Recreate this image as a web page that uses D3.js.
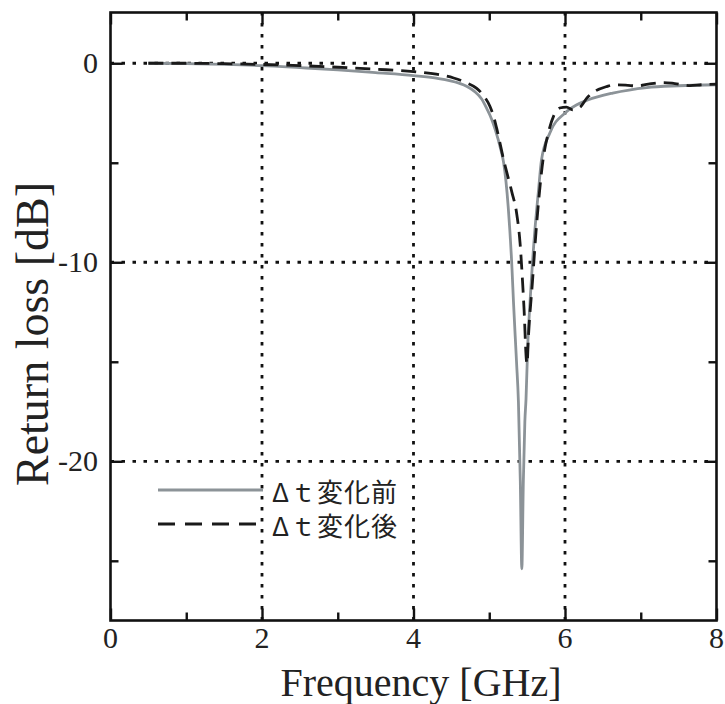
<!DOCTYPE html>
<html>
<head>
<meta charset="utf-8">
<script src="https://cdn.jsdelivr.net/npm/d3@7"></script>
<style>
  body { margin: 0; background: #fff; }
  svg { display: block; }
</style>
</head>
<body>
<svg id="chart" width="725" height="704"></svg>
<script>
// data (GHz / dB)
const freqBefore = [0.5, 1.0, 1.5, 2.0, 2.5, 3.0, 3.5, 4.0, 4.3, 4.6, 4.7, 4.8, 4.9, 4.97, 5.03, 5.08, 5.15, 5.19, 5.25,
  5.3, 5.32, 5.36, 5.385, 5.41, 5.43, 5.45, 5.47, 5.485, 5.51, 5.54, 5.6, 5.65, 5.69, 5.8, 6.0, 6.15, 6.3,
  6.63, 7.08, 7.5, 8.0]
const lossBefore = [0.0, -0.02, -0.06, -0.12, -0.22, -0.33, -0.47, -0.62, -0.75, -1.0, -1.15, -1.4, -1.8, -2.3, -2.8, -3.35, -4.3, -5.0, -7.2,
  -10.3, -12.0, -15.0, -17.0, -21.0, -25.4, -21.0, -18.0, -16.9, -14.0, -11.9, -8.5, -6.4, -4.85, -3.5, -2.5, -2.1, -1.85,
  -1.5, -1.22, -1.13, -1.08]

const freqAfter = [0.5, 1.0, 1.5, 2.0, 2.5, 3.0, 3.5, 4.0, 4.3, 4.53, 4.7, 4.83, 4.93, 5.01, 5.06, 5.1, 5.19, 5.3,
  5.36, 5.406, 5.44, 5.46, 5.49, 5.5, 5.515, 5.57, 5.617, 5.65, 5.71, 5.78, 5.93, 6.02, 6.1, 6.2, 6.29, 6.4,
  6.55, 6.64, 6.8, 6.95, 7.1, 7.3, 7.45, 7.65, 7.8, 8.0]
const lossAfter = [0.0, 0.0, -0.02, -0.06, -0.12, -0.2, -0.3, -0.42, -0.55, -0.74, -0.98, -1.25, -1.65, -2.17, -2.7, -3.3, -4.85, -6.5,
  -7.5, -9.0, -11.0, -12.4, -14.9, -15.1, -13.9, -11.0, -8.5, -7.0, -4.85, -3.5, -2.25, -2.2, -2.34, -2.2, -1.74, -1.4,
  -1.17, -1.09, -1.1, -1.14, -1.05, -0.97, -1.02, -1.12, -1.08, -1.05]

const majorX = [0, 2, 4, 6, 8]
const minorX = [1, 3, 5, 7]
const majorY = [0, -10, -20]
const minorY = [-5, -15, -25]
const legendLabels = ['Δｔ変化前', 'Δｔ変化後']

const pl = 110.5, pr = 716.5, pt = 12.5, pb = 620.5
const svg = d3.select('#chart')

const x = d3.scaleLinear().domain([0, 8]).range([pl, pr])
const y = d3.scaleLinear().domain([-28, 2.55]).range([pb, pt])

svg.append('clipPath').attr('id', 'plot')
  .append('rect')
  .attr('x', pl).attr('y', pt)
  .attr('width', pr - pl).attr('height', pb - pt)

// dotted grid
const grid = svg.append('g')
  .attr('stroke', '#111')
  .attr('stroke-width', 2.8)
  .attr('stroke-dasharray', '3.5,7.5')
grid.selectAll('.gx')
  .data(majorX.slice(1, -1))
  .join('line')
  .attr('x1', d => x(d)).attr('x2', d => x(d))
  .attr('y1', pb).attr('y2', pt)
grid.selectAll('.gy')
  .data(majorY)
  .join('line')
  .attr('y1', d => y(d)).attr('y2', d => y(d))
  .attr('x1', pl).attr('x2', pr)

// curves
const dash = '15,8'
const line = d3.line().curve(d3.curveMonotoneX)
const curves = svg.append('g').attr('clip-path', 'url(#plot)').attr('fill', 'none')
curves.append('path')
  .attr('d', line(freqBefore.map((f, i) => [x(f), y(lossBefore[i])])))
  .attr('stroke', '#8c9398')
  .attr('stroke-width', 2.8)
curves.append('path')
  .attr('d', line(freqAfter.map((f, i) => [x(f), y(lossAfter[i])])))
  .attr('stroke', '#1a1a1a')
  .attr('stroke-width', 2.8)
  .attr('stroke-dasharray', dash)

// ticks on all four sides, pointing inward
function ticks(axis, vals, size, offset) {
  const g = svg.append('g')
    .attr('transform', offset)
    .call(axis.tickValues(vals).tickSize(size).tickFormat(''))
  g.select('.domain').remove()
  g.selectAll('line').attr('stroke', '#111').attr('stroke-width', 2.4)
}
ticks(d3.axisBottom(x), majorX, -12, `translate(0,${pb})`)
ticks(d3.axisBottom(x), minorX, -8, `translate(0,${pb})`)
ticks(d3.axisTop(x), majorX, -12, `translate(0,${pt})`)
ticks(d3.axisTop(x), minorX, -8, `translate(0,${pt})`)
ticks(d3.axisLeft(y), majorY, -12, `translate(${pl},0)`)
ticks(d3.axisLeft(y), minorY, -8, `translate(${pl},0)`)
ticks(d3.axisRight(y), majorY, -12, `translate(${pr},0)`)
ticks(d3.axisRight(y), minorY, -8, `translate(${pr},0)`)

// frame
svg.append('rect')
  .attr('x', pl).attr('y', pt)
  .attr('width', pr - pl).attr('height', pb - pt)
  .attr('fill', 'none').attr('stroke', '#111').attr('stroke-width', 2.6)

// tick labels
const font = '"Liberation Serif", "Times New Roman", serif'
svg.append('g').selectAll('text')
  .data(majorX)
  .join('text')
  .attr('x', d => x(d)).attr('y', 648)
  .attr('text-anchor', 'middle')
  .attr('font-family', font).attr('font-size', 30).attr('fill', '#222')
  .text(d => d)
svg.append('g').selectAll('text')
  .data(majorY)
  .join('text')
  .attr('x', 98).attr('y', d => y(d))
  .attr('dy', '0.34em')
  .attr('text-anchor', 'end')
  .attr('font-family', font).attr('font-size', 30).attr('fill', '#222')
  .text(d => d)

// axis titles
svg.append('text')
  .attr('x', 421).attr('y', 696)
  .attr('text-anchor', 'middle')
  .attr('font-family', font).attr('font-size', 40).attr('fill', '#222')
  .text('Frequency [GHz]')
svg.append('text')
  .attr('transform', 'translate(48,334) rotate(-90)')
  .attr('text-anchor', 'middle')
  .attr('font-family', font).attr('font-size', 46).attr('fill', '#222')
  .text('Return loss [dB]')

// legend
const legend = svg.append('g')
const rows = [
  { y: 490, stroke: '#8c9398', dash: null },
  { y: 524, stroke: '#1a1a1a', dash: '17,10' }
]
legend.selectAll('line')
  .data(rows)
  .join('line')
  .attr('x1', 158).attr('x2', 263)
  .attr('y1', d => d.y).attr('y2', d => d.y)
  .attr('stroke', d => d.stroke)
  .attr('stroke-width', 2.8)
  .attr('stroke-dasharray', d => d.dash)
legend.selectAll('text')
  .data(rows)
  .join('text')
  .attr('x', 272).attr('y', d => d.y + 12)
  .attr('font-family', '"Noto Sans CJK JP", sans-serif')
  .attr('font-size', 26).attr('letter-spacing', 1).attr('fill', '#222')
  .text((d, i) => legendLabels[i])
</script>
</body>
</html>
